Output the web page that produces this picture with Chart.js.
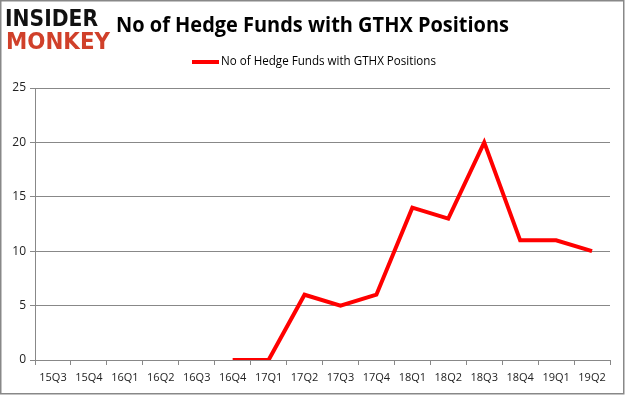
<!DOCTYPE html>
<html><head><meta charset="utf-8">
<script src="https://cdn.jsdelivr.net/npm/chart.js@4/dist/chart.umd.min.js"></script>
<style>html,body{margin:0;padding:0;background:#fff}#w{width:625px;height:395px;position:relative}</style>
</head><body><div id="w"><canvas id="c" width="625" height="395"></canvas></div>
<script>
const categories = ["15Q3","15Q4","16Q1","16Q2","16Q3","16Q4","17Q1","17Q2","17Q3","17Q4","18Q1","18Q2","18Q3","18Q4","19Q1","19Q2"];
const fundCounts = [null,null,null,null,null,0,0,6,5,6,14,13,20,11,11,10];
const yTicks = [0,5,10,15,20,25];
const seriesName = "No of Hedge Funds with GTHX Positions";
const chartTitle = "No of Hedge Funds with GTHX Positions";

const deco = {
  id: 'deco',
  afterDraw(chart) {
    const ctx = chart.ctx;
    ctx.save();
    // border
    ctx.strokeStyle = '#888';
    ctx.lineWidth = 1.5;
    ctx.strokeRect(0.75, 0.75, 623, 393);
    // logo
    ctx.textBaseline = 'alphabetic';
    ctx.textAlign = 'left';
    ctx.fillStyle = '#111';
    ctx.font = '900 23px "DejaVu Sans"';
    ctx.fillText('INSIDER', 5, 26, 93);
    ctx.fillStyle = '#d0402a';
    ctx.font = '900 23px "DejaVu Sans"';
    ctx.fillText('MONKEY', 6, 49, 104);
    // title
    ctx.fillStyle = '#000';
    ctx.font = 'bold 22px "Open Sans"';
    ctx.textBaseline = 'middle';
    ctx.fillText(chartTitle, 116, 26, 393);
    // legend
    ctx.strokeStyle = '#ff0000';
    ctx.lineWidth = 4;
    ctx.beginPath(); ctx.moveTo(192, 62); ctx.lineTo(219, 62); ctx.stroke();
    ctx.fillStyle = '#000';
    ctx.font = '12px "Open Sans"';
    ctx.fillText(seriesName, 221, 62, 215);
    ctx.restore();
  }
};

new Chart(document.getElementById('c'), {
  type: 'line',
  data: {
    labels: categories,
    datasets: [{
      label: seriesName,
      data: fundCounts,
      borderColor: '#ff0000',
      backgroundColor: '#ff0000',
      borderWidth: 4,
      pointRadius: 0,
      tension: 0,
      spanGaps: false
    }]
  },
  options: {
    responsive: false,
    animation: false,
    devicePixelRatio: 1,
    layout: { padding: { left: 5, right: 15, top: 88, bottom: 5 } },
    plugins: { legend: { display: false }, title: { display: false }, tooltip: { enabled: false } },
    scales: {
      x: {
        offset: true,
        grid: { offset: true, drawOnChartArea: false, drawTicks: true, tickLength: 5, color: '#888' },
        border: { color: '#888', width: 1 },
        ticks: { color: '#222', font: { family: '"Open Sans"', size: 11 }, maxRotation: 0, autoSkip: false, padding: 6 },
        afterFit(s) { s.height = 30; }
      },
      y: {
        min: 0, max: 25,
        afterBuildTicks(s) { s.ticks = yTicks.map(v => ({ value: v })); },
        grid: { color: '#888', tickLength: 5, drawTicks: true },
        border: { color: '#888', width: 1 },
        ticks: { color: '#222', font: { family: '"Open Sans"', size: 12 }, padding: 4 },
        afterFit(s) { s.width = 30; }
      }
    }
  },
  plugins: [deco]
});
</script></body></html>
